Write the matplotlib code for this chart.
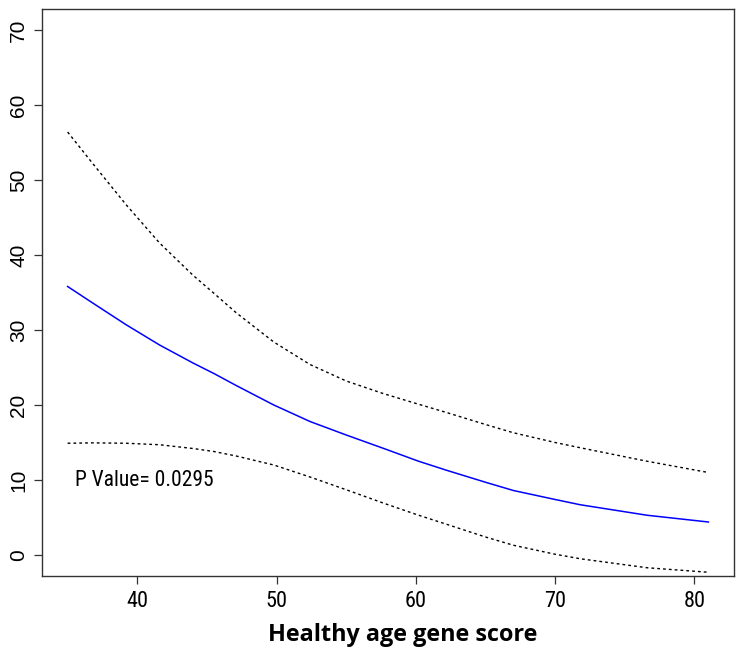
import matplotlib
matplotlib.use("Agg")
import matplotlib.pyplot as plt
from matplotlib import font_manager

# values
score = [35, 36.8, 39.2, 41.6, 44.0, 45.5, 47.1, 49.8, 52.4, 55.0, 57.7,
         60.2, 62.2, 65.0, 67.0, 70.0, 71.8, 76.6, 81]
fit = [35.8, 33.6, 30.7, 28.0, 25.6, 24.2, 22.6, 20.0, 17.8, 16.0, 14.2,
       12.5, 11.3, 9.7, 8.6, 7.4, 6.7, 5.3, 4.4]
upper = [56.4, 52.2, 46.7, 41.6, 37.3, 34.9, 32.3, 28.4, 25.4, 23.2, 21.5,
         20.1, 19.0, 17.4, 16.3, 15.0, 14.3, 12.5, 11.0]
lower = [14.9, 14.95, 14.9, 14.7, 14.2, 13.8, 13.2, 12.0, 10.4, 8.7, 6.9,
         5.3, 4.1, 2.4, 1.3, 0.1, -0.5, -1.7, -2.3]

xticks = [40, 50, 60, 70, 80]
yticks = [0, 10, 20, 30, 40, 50, 60, 70]
p_text = "P Value= 0.0295"
xlabel = "Healthy age gene score"

# the reference uses a condensed sans for tick labels; take one if present
names = {f.name for f in font_manager.fontManager.ttflist}
narrow = None
for cand in ["Liberation Sans Narrow", "Arial Narrow", "Roboto Condensed",
             "Open Sans Condensed", "DejaVu Sans Condensed", "Noto Sans Condensed"]:
    if cand in names:
        narrow = cand
        break
if narrow is None:
    for f in font_manager.fontManager.ttflist:
        if ("Narrow" in f.name or "Condensed" in f.name) and f.weight in (400, "normal", "regular"):
            narrow = f.name
            break
if narrow is None:
    narrow_fam, tsize = ["Liberation Sans", "DejaVu Sans"], 14
else:
    narrow_fam, tsize = [narrow, "Liberation Sans", "DejaVu Sans"], 15.5

W, H = 741, 659
fig = plt.figure(figsize=(W / 100, H / 100), dpi=100)
ax = fig.add_axes([42 / W, 1 - 576 / H, (734 - 42) / W, (576 - 9) / H])

ax.plot(score, fit, color="#0000ff", lw=1.1)
ax.plot(score, upper, color="black", lw=1.0, linestyle=(0, (2.0, 2.2)))
ax.plot(score, lower, color="black", lw=1.0, linestyle=(0, (2.0, 2.2)))

# R style 4% padding
xr = score[-1] - score[0]
ax.set_xlim(score[0] - 0.04 * xr, score[-1] + 0.04 * xr)
ax.set_ylim(0 - 0.04 * 70, 70 + 0.04 * 70)

ax.set_xticks(xticks)
ax.set_yticks(yticks)
ax.set_xticklabels([str(t) for t in xticks], family=narrow_fam, fontsize=tsize + 0.5)
ax.set_yticklabels([str(t) for t in yticks], family="Liberation Sans",
                   fontsize=15, rotation=90, va="center")
ax.tick_params(axis="both", direction="out", length=6, width=0.9, color="#333333")
ax.tick_params(axis="x", pad=5)
ax.tick_params(axis="y", pad=4)

for s in ax.spines.values():
    s.set_color("#333333")
    s.set_linewidth(1.0)

ax.text(35.53, 10.0, p_text, family=narrow_fam, fontsize=tsize, ha="left", va="center")

fig.text(403 / W, 1 - 641 / H, xlabel, family=["Open Sans", "DejaVu Sans"],
         fontweight="bold", fontsize=16.8, ha="center", va="baseline")

fig.savefig("out.png", dpi=100)
